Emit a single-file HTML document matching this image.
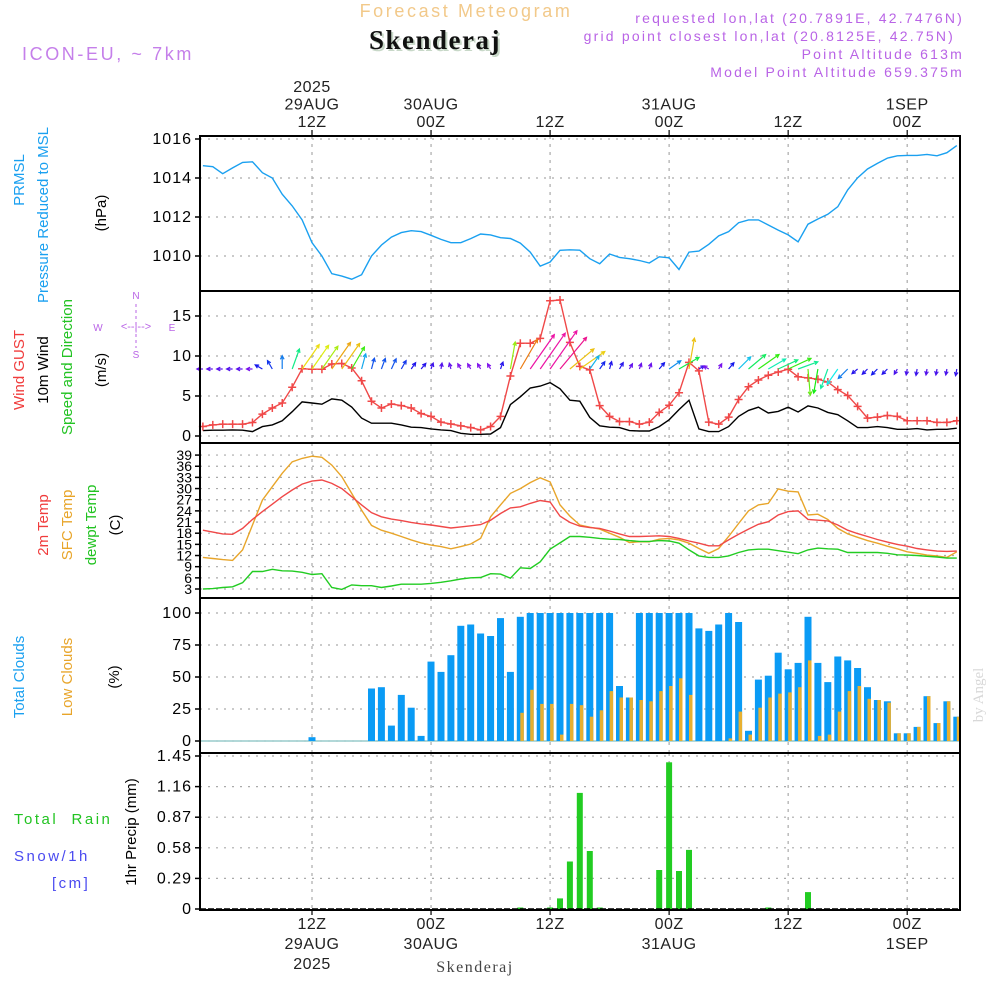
<!DOCTYPE html>
<html><head><meta charset="utf-8"><title>Forecast Meteogram - Skenderaj</title>
<style>
html,body{margin:0;padding:0;background:#fff;}
svg{display:block;font-family:"Liberation Sans",sans-serif;}
</style></head>
<body>
<svg id="chart" xmlns="http://www.w3.org/2000/svg" width="1000" height="1000" viewBox="0 0 1000 1000">
<rect x="0" y="0" width="1000" height="1000" fill="#fff"/>
<g id="header">
<text x="466" y="17" text-anchor="middle" font-size="18" fill="#f2c98a" letter-spacing="2.6">Forecast Meteogram</text>
<text x="437" y="51" text-anchor="middle" font-family="Liberation Serif,serif" font-weight="bold" font-size="27" fill="#c8d8c8" letter-spacing="1.5">Skenderaj</text>
<text x="435" y="49" text-anchor="middle" font-family="Liberation Serif,serif" font-weight="bold" font-size="27" fill="#111" letter-spacing="1.5">Skenderaj</text>
<text x="22" y="60" font-size="18" fill="#c57fea" letter-spacing="2.6">ICON-EU, ~ 7km</text>
<g font-size="14" fill="#b964e6" text-anchor="end" letter-spacing="2.2">
<text x="964" y="23">requested lon,lat (20.7891E, 42.7476N)</text>
<text x="955" y="41">grid point closest lon,lat (20.8125E, 42.75N)</text>
<text x="964" y="59">Point Altitude 613m</text>
<text x="964" y="77">Model Point Altitude 659.375m</text>
</g>
</g>
<g id="plots"></g>
<g id="labels" font-size="15">
<text transform="translate(24,180) rotate(-90)" text-anchor="middle" fill="#1aa0f0">PRMSL</text>
<text transform="translate(48,215) rotate(-90)" text-anchor="middle" fill="#1aa0f0">Pressure Reduced to MSL</text>
<text transform="translate(106,213) rotate(-90)" text-anchor="middle" fill="#000">(hPa)</text>
<text transform="translate(24,370) rotate(-90)" text-anchor="middle" fill="#f03c3c">Wind GUST</text>
<text transform="translate(48,370) rotate(-90)" text-anchor="middle" fill="#000">10m Wind</text>
<text transform="translate(72,367) rotate(-90)" text-anchor="middle" fill="#22c322">Speed and Direction</text>
<text transform="translate(106,370) rotate(-90)" text-anchor="middle" fill="#000">(m/s)</text>
<g font-size="10" fill="#b964e6" text-anchor="middle">
<text x="136" y="299">N</text><text x="98" y="331">W</text><text x="172" y="331">E</text><text x="136" y="358">S</text>
<text x="136" y="330" font-size="11">&lt;--|--&gt;</text>
<line x1="136" y1="304" x2="136" y2="348" stroke="#b964e6" stroke-dasharray="3,3"/>
</g>
<text transform="translate(48,525) rotate(-90)" text-anchor="middle" fill="#f03c3c">2m Temp</text>
<text transform="translate(72,525) rotate(-90)" text-anchor="middle" fill="#e8a52a">SFC Temp</text>
<text transform="translate(96,525) rotate(-90)" text-anchor="middle" fill="#22c322">dewpt Temp</text>
<text transform="translate(120,525) rotate(-90)" text-anchor="middle" fill="#000">(C)</text>
<text transform="translate(24,677) rotate(-90)" text-anchor="middle" fill="#1aa0f0">Total Clouds</text>
<text transform="translate(72,677) rotate(-90)" text-anchor="middle" fill="#e8a52a">Low Clouds</text>
<text transform="translate(119,677) rotate(-90)" text-anchor="middle" fill="#000">(%)</text>
<text x="14" y="824" fill="#22c322" letter-spacing="2.5" xml:space="preserve">Total  Rain</text>
<text x="14" y="861" fill="#4a4af0" letter-spacing="2.5">Snow/1h</text>
<text x="52" y="888" fill="#4a4af0" letter-spacing="2.5">[cm]</text>
<text transform="translate(136,832) rotate(-90)" text-anchor="middle" fill="#000">1hr Precip (mm)</text>
<text transform="translate(983,695) rotate(-90)" text-anchor="middle" font-family="Liberation Serif,serif" font-size="15" fill="#d8d8d8">by Angel</text>
<text x="475" y="972" text-anchor="middle" font-family="Liberation Serif,serif" font-size="16" fill="#444" letter-spacing="1.5">Skenderaj</text>
</g>
</svg>
<script>
// ---- data (hour index h = 1..77, hours since 00Z 29 Aug 2025) ----
const hours = Array.from({length:77},(_,i)=>i+1);
const pressure = [1014.63,1014.58,1014.22,1014.52,1014.80,1014.83,1014.27,1014.0,1013.17,1012.57,1011.85,1010.68,1010.0,1009.09,1008.97,1008.81,1009.04,1010.0,1010.56,1010.97,1011.2,1011.3,1011.25,1011.06,1010.85,1010.68,1010.68,1010.89,1011.13,1011.08,1010.94,1010.9,1010.66,1010.2,1009.48,1009.69,1010.29,1010.32,1010.3,1009.86,1009.6,1010.1,1009.93,1009.86,1009.77,1009.64,1009.96,1009.91,1009.31,1010.2,1010.25,1010.6,1011.03,1011.25,1011.71,1011.85,1011.85,1011.59,1011.33,1011.08,1010.73,1011.63,1011.9,1012.14,1012.53,1013.39,1014.01,1014.46,1014.75,1015.02,1015.14,1015.16,1015.16,1015.21,1015.14,1015.3,1015.66];
const gust = [1.18,1.39,1.48,1.48,1.48,1.69,2.74,3.5,4.13,6.1,8.4,8.35,8.35,9.0,9.07,8.5,6.9,4.35,3.5,4.0,3.8,3.5,2.8,2.45,1.73,1.5,1.27,1.05,0.76,1.18,2.45,7.5,11.6,11.6,12.2,16.9,17.0,11.7,8.7,8.27,3.8,2.45,1.8,1.8,1.48,1.73,2.95,3.84,5.4,9.2,8.14,1.73,1.48,2.36,4.56,6.16,7.0,7.6,8.0,8.35,7.4,7.26,7.1,6.75,5.8,5.06,3.7,2.24,2.36,2.57,2.45,1.9,1.9,1.9,1.7,1.7,1.9];
const wind10m = [0.68,0.72,0.72,0.76,0.72,0.55,1.18,1.39,1.9,3.04,4.26,4.13,3.97,4.64,4.47,3.63,2.24,1.6,1.6,1.6,1.39,1.1,1.05,0.89,0.76,0.68,0.34,0.21,0.21,0.25,1.05,3.92,4.9,6.0,6.24,6.67,5.9,4.47,4.35,2.32,1.27,1.1,1.05,0.68,0.63,0.63,1.18,2.03,3.3,4.47,0.89,0.55,0.55,1.18,2.45,3.2,3.6,2.87,3.08,3.6,3.0,3.76,3.5,2.95,2.66,1.9,1.05,1.05,1.18,1.05,0.84,0.84,0.93,0.76,0.84,0.84,0.97];
const windDir = [270,270,270,270,270,270,300,330,0,20,35,35,35,35,35,30,15,15,20,25,30,35,40,20,10,345,330,330,330,330,20,10,30,35,35,35,40,50,55,35,35,15,30,30,20,20,40,55,60,10,60,300,30,40,45,50,55,60,65,65,70,175,190,200,215,225,230,225,225,225,210,190,190,190,190,190,190];
const temp2m = [18.8,18.3,17.8,17.7,19.3,21.7,23.8,25.8,27.8,29.6,31.2,32.0,32.3,31.4,30.0,27.8,25.6,23.5,22.4,21.8,21.4,20.9,20.5,20.2,19.8,19.4,19.7,20.0,20.3,21.5,23.3,24.8,25.1,26.0,26.8,26.4,22.6,20.9,19.9,19.5,19.3,18.6,17.8,17.1,17.1,17.2,17.3,17.1,16.6,15.9,15.3,14.6,14.6,16.2,17.7,19.1,20.4,21.1,22.9,23.8,24.0,21.7,21.5,21.3,20.2,18.8,17.9,17.1,16.3,15.6,15.0,14.5,13.9,13.5,13.2,13.1,13.2];
const sfcTemp = [11.5,11.2,10.9,10.7,13.5,20.2,26.9,30.5,34.1,37.2,38.1,38.7,38.4,36.3,33.2,28.7,24.2,20.1,18.8,18.0,17.1,16.2,15.4,14.8,14.4,13.8,14.4,15.1,16.6,22.4,25.6,28.7,30.0,31.6,32.9,31.8,25.6,22.6,20.2,19.6,19.1,18.0,16.9,15.5,15.7,15.7,16.4,16.6,16.2,15.3,13.9,12.6,13.9,17.1,20.6,24.0,25.6,26.0,29.9,29.3,29.1,22.9,23.1,21.7,19.3,17.8,16.9,16.0,15.3,14.5,13.8,13.0,12.6,12.1,11.9,11.5,13.0];
const dewpoint = [3.0,3.1,3.4,3.6,4.7,7.7,7.7,8.3,7.9,7.8,7.5,6.9,7.1,3.4,2.9,4.1,3.9,3.9,3.4,3.8,4.3,4.3,4.3,4.5,4.8,5.2,5.7,6.0,6.1,7.1,7.0,5.9,8.7,8.5,10.3,13.7,15.4,17.1,17.1,16.9,16.6,16.4,16.3,16.0,15.8,15.8,16.0,15.9,15.3,13.5,11.9,11.5,11.5,11.9,12.8,13.5,13.7,13.7,13.3,12.9,12.5,13.5,14.0,13.8,13.7,12.8,12.8,12.8,12.8,12.6,12.2,12.1,12.0,11.8,11.6,11.3,11.3];
const totalClouds = [0,0,0,0,0,0,0,0,0,0,0,3,0,0,0,0,0,41,42,12,36,26,4,62,54,67,90,91,84,82,96,54,97,100,100,100,100,100,100,100,100,100,43,34,100,100,100,100,100,100,88,86,91,100,93,8,48,51,69,56,61,97,61,46,66,63,57,42,32,31,6,6,11,35,14,31,19];
const lowClouds = [0,0,0,0,0,0,0,0,0,0,0,0,0,0,0,0,0,0,0,0,0,0,0,0,0,0,0,0,0,0,0,0,22,40,29,29,5,29,28,19,24,39,34,34,32,31,39,43,49,36,0,0,0,2,23,5,26,34,37,38,42,63,4,5,23,39,43,33,32,30,6,6,11,35,14,31,19];
const precip = [0,0,0,0,0,0,0,0,0,0,0,0,0,0,0,0,0,0,0,0,0,0,0,0,0,0,0,0,0,0,0,0,0.01,0,0,0.01,0.1,0.45,1.1,0.55,0.01,0,0,0,0,0,0.37,1.39,0.36,0.56,0,0,0,0,0,0,0,0.01,0,0,0,0.16,0,0,0,0,0,0,0,0,0,0,0,0,0,0,0];
const pressureTicks = [1010,1012,1014,1016];
const windTicks = [0,5,10,15];
const tempTicks = [3,6,9,12,15,18,21,24,27,30,33,36,39];
const cloudTicks = [0,25,50,75,100];
const precipTicks = [0,0.29,0.58,0.87,1.16,1.45];
const timeTickHours = [12,24,36,48,60,72];
const topTickLabels = [["2025","29AUG","12Z"],["30AUG","00Z"],["12Z"],["31AUG","00Z"],["12Z"],["1SEP","00Z"]];
const bottomTickLabels = [["12Z","29AUG","2025"],["00Z","30AUG"],["12Z"],["00Z","31AUG"],["12Z"],["00Z","1SEP"]];

// ---- axes ----
const X0=200, X1=960;
const xH = h => 312 + (h-12)*9.92;
const yP = v => 256 - (v-1010)*19.5;
const yW = v => 436 - v*8;
const yT = v => 589 - (v-3)*3.72;
const yC = v => 741 - v*1.28;
const yR = v => 909 - v*(153/1.45);
const panels = [
 {name:'pressure',top:136,bot:291,ticks:pressureTicks,y:yP,fmt:v=>String(v)},
 {name:'wind',top:291,bot:443,ticks:windTicks,y:yW,fmt:v=>String(v)},
 {name:'temperature',top:443,bot:598,ticks:tempTicks,y:yT,fmt:v=>String(v)},
 {name:'clouds',top:598,bot:753,ticks:cloudTicks,y:yC,fmt:v=>String(v)},
 {name:'precip',top:753,bot:910,ticks:precipTicks,y:yR,fmt:v=>v===0?'0':v.toFixed(2)}
];
const NS='http://www.w3.org/2000/svg';
const root=document.getElementById('plots');
function mk(tag,attrs,parent){const e=document.createElementNS(NS,tag);for(const k in attrs)e.setAttribute(k,attrs[k]);(parent||root).appendChild(e);return e;}

panels.forEach(p=>{
  const g=mk('g',{});
  
  
  p.g=g;
  p.ticks.forEach(t=>{
    const yy=p.y(t);
    const gl=mk('line',{x1:X0,x2:X1,y1:yy,y2:yy,stroke:'#aaa','stroke-dasharray':'2,6','stroke-width':1.2},g);
    
    
    const tk=mk('line',{x1:X0-5,x2:X0,y1:yy,y2:yy,stroke:'#000','stroke-width':1.5},g);
    
    
    const lb=mk('text',{x:X0-8,y:yy+5,'text-anchor':'end','font-size':p.name==='temperature'?14:16,fill:'#000','letter-spacing':p.name==='temperature'?0:1},g);
    lb.textContent=p.fmt(t);
    
    
  });
  timeTickHours.forEach(h=>{
    const vl=mk('line',{x1:xH(h),x2:xH(h),y1:p.top,y2:p.bot,stroke:'#aaa','stroke-dasharray':'3,5','stroke-width':1.2},g);
    
    
  });
});

function polyline(p,vals,yf,color,name,w){
  const pts=vals.map((v,i)=>xH(hours[i]).toFixed(1)+','+yf(v).toFixed(1)).join(' ');
  const l=mk('polyline',{points:pts,fill:'none',stroke:color,'stroke-width':w||1.4},p.g);
  
  
  return l;
}
polyline(panels[0],pressure,yP,'#1aa0f0','pressure-line');
polyline(panels[1],wind10m,yW,'#000','wind-speed-line');
polyline(panels[1],gust,yW,'#f04848','wind-gust-line');
gust.forEach((v,i)=>{
  const cx=xH(hours[i]), cy=yW(v);
  const m=mk('path',{d:`M${cx-4},${cy}H${cx+4}M${cx},${cy-4}V${cy+4}`,stroke:'#f04848','stroke-width':1.5},panels[1].g);
  
  
});
const hueStops=[[0.5,270],[1.5,225],[2.5,190],[3.5,120],[4.2,58],[4.8,35],[6.0,-40]];
function hueFor(s){
  if(s<=hueStops[0][0])return hueStops[0][1];
  for(let i=1;i<hueStops.length;i++){if(s<=hueStops[i][0]){const a=hueStops[i-1],b=hueStops[i];return a[1]+(b[1]-a[1])*(s-a[0])/(b[0]-a[0]);}}
  return -40;
}
wind10m.forEach((s,i)=>{
  const h=hours[i], x=xH(h), y=369;
  const len=Math.max(6,s*7), a=windDir[i]*Math.PI/180;
  const tx=x+Math.sin(a)*len, ty=y-Math.cos(a)*len;
  let hue=hueFor(s); if(hue<0)hue+=360;
  const col=`hsl(${hue.toFixed(0)},85%,50%)`;
  const b1=a+Math.PI*0.85, b2=a-Math.PI*0.85, hl=4;
  const d=`M${x.toFixed(1)},${y}L${tx.toFixed(1)},${ty.toFixed(1)}M${(tx+Math.sin(b1)*hl).toFixed(1)},${(ty-Math.cos(b1)*hl).toFixed(1)}L${tx.toFixed(1)},${ty.toFixed(1)}L${(tx+Math.sin(b2)*hl).toFixed(1)},${(ty-Math.cos(b2)*hl).toFixed(1)}`;
  const ar=mk('path',{d:d,stroke:col,'stroke-width':1.2,fill:'none'},panels[1].g);
  
  
});
polyline(panels[2],sfcTemp,yT,'#e8a52a','sfc-temp-line');
polyline(panels[2],temp2m,yT,'#f04848','t2m-line');
polyline(panels[2],dewpoint,yT,'#22cc22','dewpoint-line');
mk('line',{x1:X0,x2:X1,y1:yC(0),y2:yC(0),stroke:'#9cc',"stroke-width":1.5},panels[3].g);
totalClouds.forEach((v,i)=>{
  if(v<=0)return;
  const x=xH(hours[i]);
  const r=mk('rect',{x:(x-3.5).toFixed(1),y:yC(v).toFixed(1),width:7,height:(yC(0)-yC(v)).toFixed(1),fill:'#0a9bf5'},panels[3].g);
  
  
});
lowClouds.forEach((v,i)=>{
  if(v<=0)return;
  const x=xH(hours[i]);
  const r=mk('rect',{x:(x).toFixed(1),y:yC(v).toFixed(1),width:3.5,height:(yC(0)-yC(v)).toFixed(1),fill:'#e8b030'},panels[3].g);
  
  
});
precip.forEach((v,i)=>{
  if(v<=0)return;
  const x=xH(hours[i]);
  const hgt=Math.max(1.5,yR(0)-yR(v));
  const r=mk('rect',{x:(x-3).toFixed(1),y:(yR(0)-hgt).toFixed(1),width:6,height:hgt.toFixed(1),fill:'#22cc22'},panels[4].g);
  
  
});
mk('line',{x1:X0,x2:X1,y1:yR(0),y2:yR(0),stroke:'#000','stroke-width':1.5,'stroke-dasharray':'6,2'},panels[4].g);

panels.forEach(p=>{
  const f=mk('rect',{x:X0,y:p.top,width:X1-X0,height:p.bot-p.top,fill:'none',stroke:'#000','stroke-width':2});
  
  
});
timeTickHours.forEach((h,k)=>{
  const x=xH(h);
  mk('line',{x1:x,x2:x,y1:130,y2:136,stroke:'#000','stroke-width':1.2});
  const lines=topTickLabels[k];
  lines.forEach((s,j)=>{
    const t=mk('text',{x:x,y:127-(lines.length-1-j)*17.5,'text-anchor':'middle','font-size':16,fill:'#222','letter-spacing':0.5});
    t.textContent=s;
    
    
  });
  mk('line',{x1:x,x2:x,y1:910,y2:915,stroke:'#000','stroke-width':1.2});
  bottomTickLabels[k].forEach((s,j)=>{
    const t=mk('text',{x:x,y:929+j*20,'text-anchor':'middle','font-size':16,fill:'#222','letter-spacing':0.5});
    t.textContent=s;
    
    
  });
});
</script>
</body></html>
